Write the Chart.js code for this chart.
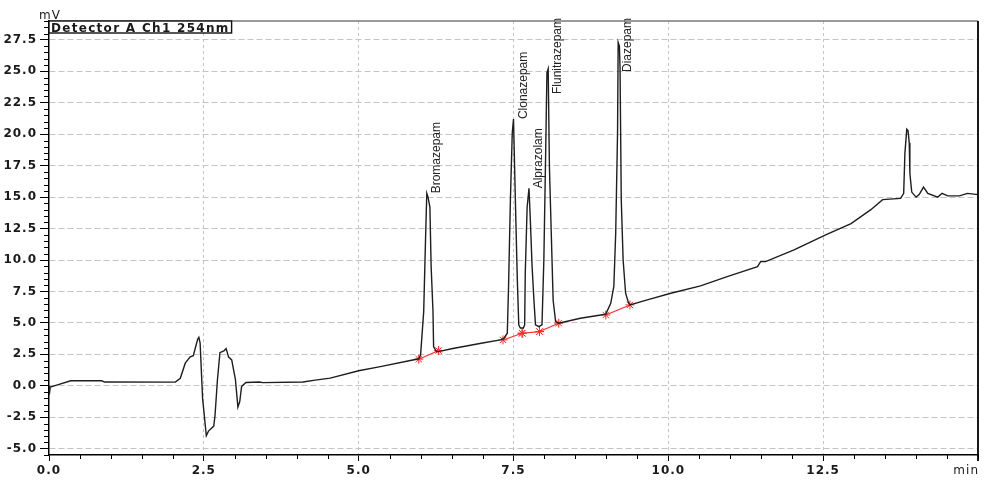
<!DOCTYPE html>
<html>
<head>
<meta charset="utf-8">
<title>Detector A Ch1 254nm</title>
<script src="https://cdn.jsdelivr.net/npm/chart.js@4/dist/chart.umd.min.js"></script>
<style>
  html, body { margin: 0; padding: 0; background: #fff; }
  #wrap { width: 984px; height: 482px; }
</style>
</head>
<body>
<div id="wrap"><canvas id="chrom" width="984" height="482"></canvas></div>
<script>
'use strict';

// Retention time (min) and detector signal (mV)
const timeMin = [
  0.00, 0.005, 0.02, 0.15, 0.35, 0.85, 0.90, 2.04, 2.12, 2.20,
  2.28, 2.33, 2.40, 2.42, 2.44, 2.48, 2.54, 2.575, 2.66, 2.68,
  2.72, 2.76, 2.83, 2.86, 2.90, 2.95, 3.01, 3.05, 3.08, 3.11,
  3.18, 3.40, 3.45, 4.10, 4.30, 4.54, 5.00, 5.35, 5.97, 6.00,
  6.05, 6.08, 6.10, 6.12, 6.15, 6.17, 6.20, 6.21, 6.26, 6.29,
  6.50, 7.00, 7.29, 7.34, 7.40, 7.42, 7.45, 7.48, 7.50, 7.53,
  7.56, 7.585, 7.61, 7.66, 7.68, 7.69, 7.72, 7.75, 7.77, 7.80,
  7.83, 7.855, 7.91, 7.96, 7.99, 8.02, 8.04, 8.06, 8.08, 8.11,
  8.14, 8.18, 8.23, 8.58, 8.91, 8.99, 9.07, 9.12, 9.15, 9.18,
  9.19, 9.21, 9.22, 9.24, 9.27, 9.31, 9.35, 9.38, 9.66, 10.04,
  10.52, 10.95, 11.44, 11.49, 11.57, 12.03, 12.54, 12.95, 13.27, 13.46,
  13.75, 13.80, 13.82, 13.85, 13.87, 13.89, 13.90, 13.93, 14.00, 14.05,
  14.12, 14.19, 14.35, 14.42, 14.51, 14.70, 14.83, 15.00
];
const signalMv = [
  0.0, -0.7, -0.1, 0.1, 0.4, 0.4, 0.3, 0.29, 0.6, 1.8,
  2.3, 2.4, 3.7, 3.86, 3.4, -1.0, -3.97, -3.6, -3.2, -2.4,
  0.5, 2.64, 2.8, 2.96, 2.28, 2.06, 0.5, -1.69, -1.25, -0.05,
  0.26, 0.3, 0.25, 0.3, 0.45, 0.61, 1.2, 1.53, 2.15, 2.46,
  5.9, 11.7, 15.3, 15.0, 14.2, 9.5, 5.9, 3.1, 2.7, 2.72,
  2.95, 3.4, 3.65, 3.75, 4.18, 7.9, 14.8, 20.1, 21.2, 14.8,
  8.7, 4.84, 4.6, 4.6, 4.84, 8.96, 14.2, 15.7, 13.4, 9.5,
  6.8, 4.84, 4.7, 4.84, 10.0, 18.7, 24.9, 25.2, 17.4, 12.1,
  6.8, 5.1, 4.98, 5.37, 5.63, 5.7, 6.56, 7.9, 12.1, 20.1,
  27.3, 27.0, 25.3, 14.8, 10.0, 7.36, 6.7, 6.43, 6.83, 7.36,
  7.94, 8.68, 9.47, 9.87, 9.87, 10.8, 12.0, 12.9, 14.0, 14.8,
  14.9, 15.3, 18.5, 20.4, 20.3, 19.3, 16.9, 15.4, 15.0, 15.2,
  15.8, 15.3, 15.0, 15.3, 15.1, 15.1, 15.3, 15.2
];

// Identified peaks (apex time / apex height)
const peakNames = ['Bromazepam', 'Clonazepam', 'Alprazolam', 'Flunitrazepam', 'Diazepam'];
const peakTimes = [6.10, 7.50, 7.75, 8.06, 9.19];
const peakHeights = [15.3, 21.2, 15.7, 25.2, 27.3];

// Integration baselines under each peak
const baseStartT = [5.97, 7.33, 7.64, 7.92, 8.99];
const baseStartV = [2.12, 3.65, 4.18, 4.31, 5.63];
const baseEndT = [6.29, 7.64, 7.92, 8.23, 9.38];
const baseEndV = [2.80, 4.18, 4.31, 4.98, 6.43];

// Axis ticks
const xTickValues = [0, 2.5, 5, 7.5, 10, 12.5];
const yTickValues = [-5, -2.5, 0, 2.5, 5, 7.5, 10, 12.5, 15, 17.5, 20, 22.5, 25, 27.5];

const X_MIN = 0, X_MAX = 15, Y_MIN = -5.5, Y_MAX = 29;
const TITLE = 'Detector A Ch1 254nm';
const tickFont = { family: 'DejaVu Sans', size: 12, weight: 'bold' };

const trace = timeMin.map((t, i) => ({ x: t, y: signalMv[i] }));

const baselineSets = baseStartT.map((t, i) => ({
  data: [{ x: t, y: baseStartV[i] }, { x: baseEndT[i], y: baseEndV[i] }],
  borderColor: '#ff2a2a',
  borderWidth: 1.1,
  pointStyle: 'star',
  pointRadius: 4.5,
  pointBorderColor: '#ff2a2a',
  pointBorderWidth: 1,
  pointBackgroundColor: '#ff2a2a',
  tension: 0
}));

const chromPlugin = {
  id: 'chromDecor',
  beforeDraw(chart) {
    chart.ctx.letterSpacing = '1px';
  },
  afterDatasetsDraw(chart) {
    const { ctx, chartArea, scales: { x, y } } = chart;
    ctx.save();
    ctx.letterSpacing = '0px';
    ctx.font = '12px "Liberation Sans"';
    ctx.fillStyle = '#222';
    ctx.textAlign = 'left';
    ctx.textBaseline = 'top';
    peakNames.forEach((name, i) => {
      const px = x.getPixelForValue(peakTimes[i]) + 4;
      const w = ctx.measureText(name).width;
      let py = y.getPixelForValue(peakHeights[i]);
      // push the label down so it stays inside the plot
      py = Math.max(py, chartArea.top - 3 + w);
      ctx.save();
      ctx.translate(px, py);
      ctx.rotate(-Math.PI / 2);
      ctx.fillText(name, 0, 0);
      ctx.restore();
    });
    ctx.restore();
  },
  afterDraw(chart) {
    const { ctx, chartArea: a, scales: { x, y } } = chart;
    ctx.save();

    // minor tick marks every 0.5
    ctx.strokeStyle = '#000';
    ctx.lineWidth = 1;
    ctx.beginPath();
    for (let k = 0; k <= (Y_MAX - Y_MIN) / 0.5; k++) {
      const v = Y_MIN + k * 0.5;
      if (yTickValues.includes(v)) continue;
      const py = Math.round(y.getPixelForValue(v)) + 0.5;
      ctx.moveTo(a.left - 5, py);
      ctx.lineTo(a.left, py);
    }
    for (let k = 1; k <= (X_MAX - X_MIN) / 0.5; k++) {
      const v = X_MIN + k * 0.5;
      if (xTickValues.includes(v)) continue;
      const px = Math.round(x.getPixelForValue(v)) + 0.5;
      ctx.moveTo(px, a.bottom);
      ctx.lineTo(px, a.bottom + 4);
    }
    ctx.stroke();

    // top and right frame
    ctx.strokeStyle = '#7a7a7a';
    ctx.lineWidth = 1.5;
    ctx.beginPath();
    ctx.moveTo(a.left, a.top);
    ctx.lineTo(a.right, a.top);
    ctx.stroke();
    ctx.strokeStyle = '#000';
    ctx.lineWidth = 1.8;
    ctx.beginPath();
    ctx.moveTo(a.right, a.top);
    ctx.lineTo(a.right, a.bottom + 6);
    ctx.stroke();

    // detector caption box
    ctx.letterSpacing = '1.3px';
    ctx.font = 'bold 12px "DejaVu Sans"';
    const tw = ctx.measureText(TITLE).width;
    ctx.fillStyle = '#fff';
    ctx.fillRect(a.left, a.top, tw + 4, 12);
    ctx.strokeStyle = '#111';
    ctx.lineWidth = 1.4;
    ctx.strokeRect(a.left, a.top, tw + 4, 12);
    ctx.fillStyle = '#1a1a1a';
    ctx.textAlign = 'left';
    ctx.textBaseline = 'alphabetic';
    ctx.fillText(TITLE, a.left + 2, a.top + 10.5);

    // axis units
    ctx.font = '12px "DejaVu Sans"';
    ctx.letterSpacing = '1px';
    ctx.textAlign = 'center';
    ctx.fillText('mV', a.left + 1, a.top - 2);
    ctx.textAlign = 'right';
    ctx.fillText('min', a.right + 1, a.bottom + 19);
    ctx.restore();
  }
};

new Chart(document.getElementById('chrom'), {
  type: 'line',
  data: {
    datasets: [{
      data: trace,
      borderColor: '#1e1e1e',
      borderWidth: 1.4,
      pointRadius: 0,
      tension: 0
    }].concat(baselineSets)
  },
  options: {
    responsive: false,
    animation: false,
    events: [],
    layout: { padding: { top: 21, right: 6, left: 0, bottom: 0 } },
    plugins: {
      legend: { display: false },
      tooltip: { enabled: false }
    },
    scales: {
      x: {
        type: 'linear',
        min: X_MIN,
        max: X_MAX,
        afterBuildTicks: s => { s.ticks = xTickValues.map(v => ({ value: v })); },
        afterFit: s => { s.height = 27; },
        ticks: {
          autoSkip: false,
          maxRotation: 0,
          padding: 3,
          color: '#1a1a1a',
          font: tickFont,
          callback: v => v.toFixed(1)
        },
        grid: {
          color: c => (c.tick && c.tick.value === X_MIN) ? 'rgba(0,0,0,0)' : '#c4c4c4',
          tickColor: '#000',
          tickLength: 6,
          lineWidth: 1
        },
        border: { display: true, color: '#000', width: 1.5, dash: [3, 3] }
      },
      y: {
        min: Y_MIN,
        max: Y_MAX,
        afterBuildTicks: s => { s.ticks = yTickValues.map(v => ({ value: v })); },
        afterFit: s => { s.width = 49; },
        ticks: {
          autoSkip: false,
          padding: 3,
          color: '#1a1a1a',
          font: tickFont,
          callback: v => v.toFixed(1)
        },
        grid: {
          color: '#c4c4c4',
          tickColor: '#000',
          tickLength: 9,
          lineWidth: 1
        },
        border: { display: true, color: '#000', width: 1.5, dash: [6, 3] }
      }
    }
  },
  plugins: [chromPlugin]
});
</script>
</body>
</html>
